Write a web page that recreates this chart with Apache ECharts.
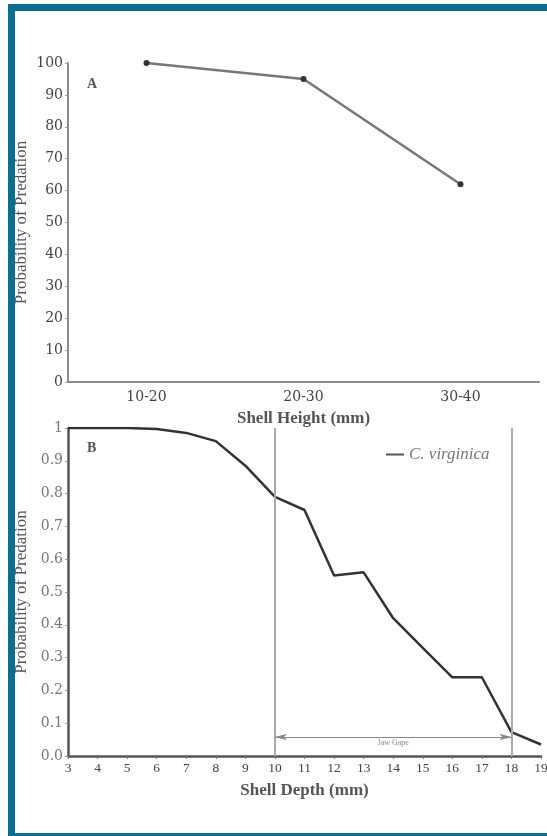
<!DOCTYPE html>
<html>
<head>
<meta charset="utf-8">
<script src="https://cdn.jsdelivr.net/npm/echarts@6/dist/echarts.min.js"></script>
<style>
  html, body { margin: 0; padding: 0; background: #fff; overflow: hidden; }
  #frame { position: absolute; left: 8px; top: 4px; width: 620px; height: 822px; border: 7px solid #0b6d8f; }
  #main { position: absolute; left: 0; top: 0; width: 547px; height: 836px; }
</style>
</head>
<body>
<div id="frame"></div>
<div id="main"></div>
<script>
// 图A：壳高
const heightCats = ['10-20', '20-30', '30-40'];
const heightProb = [100, 95, 62];
// 图B：壳深
const depthVals = [3, 4, 5, 6, 7, 8, 9, 10, 11, 12, 13, 14, 15, 16, 17, 18, 19];
const depthProb = [1.0, 1.0, 1.0, 0.997, 0.985, 0.96, 0.885, 0.79, 0.75, 0.55, 0.56, 0.42, 0.33, 0.24, 0.24, 0.073, 0.035];
const jawGape = [10, 18];
const jawGapeLevel = 0.058;

const serif = 'Liberation Serif';
const wide = 'DejaVu Serif';
const myChart = echarts.init(document.getElementById('main'));

const option = {
  animation: false,
  textStyle: { fontFamily: serif },
  title: [
    { text: 'A', left: 82, top: 72, textStyle: { fontFamily: serif, fontSize: 14, fontWeight: 'bold', color: '#555' } },
    { text: 'B', left: 82, top: 436, textStyle: { fontFamily: serif, fontSize: 14, fontWeight: 'bold', color: '#555' } }
  ],
  legend: {
    data: ['C. virginica'],
    left: 381, top: 441,
    icon: 'rect', itemWidth: 18, itemHeight: 2, itemGap: 6,
    textStyle: { fontFamily: serif, fontStyle: 'italic', fontSize: 17, color: '#777' }
  },
  grid: [
    { left: 68, top: 63, width: 471, height: 319, outerBoundsMode: 'none' },
    { left: 68, top: 428, width: 473, height: 328, outerBoundsMode: 'none' }
  ],
  xAxis: [
    {
      gridIndex: 0, type: 'category', data: heightCats,
      axisLine: { lineStyle: { color: '#8a8a8a', width: 2 } },
      axisTick: { alignWithLabel: true, length: 3, lineStyle: { color: '#999' } },
      axisLabel: { margin: 8, fontSize: 14, color: '#444', fontFamily: wide },
      name: 'Shell Height (mm)', nameLocation: 'middle', nameGap: 28,
      nameTextStyle: { fontFamily: serif, fontSize: 17, fontWeight: 'bold', color: '#555' }
    },
    {
      gridIndex: 1, type: 'value', min: 3, max: 19, interval: 1,
      splitLine: { show: false },
      axisLine: { lineStyle: { color: '#555', width: 2.5 } },
      axisTick: { show: true, length: 3, lineStyle: { color: '#777' } },
      axisLabel: { margin: 5, fontSize: 13.5, color: '#444', fontFamily: serif },
      name: 'Shell Depth (mm)', nameLocation: 'middle', nameGap: 26,
      nameTextStyle: { fontFamily: serif, fontSize: 17, fontWeight: 'bold', color: '#555' }
    }
  ],
  yAxis: [
    {
      gridIndex: 0, type: 'value', min: 0, max: 100, interval: 10,
      splitLine: { show: false },
      axisLine: { show: true, lineStyle: { color: '#8a8a8a', width: 2 } },
      axisTick: { show: true, length: 3, lineStyle: { color: '#999' } },
      axisLabel: { margin: 5, fontSize: 14, color: '#444', fontFamily: wide },
      name: 'Probability of Predation', nameLocation: 'middle', nameGap: 38, nameRotate: 90,
      nameMoveOverlap: false,
      nameTextStyle: { fontFamily: serif, fontSize: 17, color: '#555' }
    },
    {
      gridIndex: 1, type: 'value', min: 0, max: 1, interval: 0.1,
      splitLine: { show: false },
      axisLine: { show: true, lineStyle: { color: '#555', width: 2.5 } },
      axisTick: { show: true, length: 3, lineStyle: { color: '#999' } },
      axisLabel: {
        margin: 5, fontSize: 14, color: '#777', fontFamily: wide,
        formatter: function (v) { return v === 1 ? '1' : v.toFixed(1); }
      },
      name: 'Probability of Predation', nameLocation: 'middle', nameGap: 38, nameRotate: 90,
      nameMoveOverlap: false,
      nameTextStyle: { fontFamily: serif, fontSize: 17, color: '#555' }
    }
  ],
  series: [
    {
      name: 'A', type: 'line', xAxisIndex: 0, yAxisIndex: 0,
      data: heightProb,
      symbol: 'circle', symbolSize: 6,
      lineStyle: { color: '#777', width: 2.5 },
      itemStyle: { color: '#333' }
    },
    {
      name: 'C. virginica', type: 'line', xAxisIndex: 1, yAxisIndex: 1,
      data: depthVals.map((d, i) => [d, depthProb[i]]),
      showSymbol: false, symbol: 'none',
      lineStyle: { color: '#333', width: 2.5 },
      itemStyle: { color: '#555' },
      markLine: {
        silent: true,
        animation: false,
        symbol: ['none', 'none'],
        data: [
          { xAxis: jawGape[0], lineStyle: { color: '#aaa', width: 2, type: 'solid' }, label: { show: false } },
          { xAxis: jawGape[1], lineStyle: { color: '#aaa', width: 2, type: 'solid' }, label: { show: false } },
          [
            { coord: [jawGape[0], jawGapeLevel], symbol: 'arrow', symbolSize: [5, 12] },
            { coord: [jawGape[1], jawGapeLevel], symbol: 'arrow', symbolSize: [5, 12],
              lineStyle: { color: '#888', width: 1.2, type: 'solid' },
              label: { show: true, formatter: 'Jaw Gape', position: 'insideMiddleBottom', distance: 2,
                fontFamily: serif, fontSize: 8, color: '#888' } }
          ]
        ]
      }
    }
  ]
};
myChart.setOption(option);
window.addEventListener('resize', function () {
  myChart.resize();
});
</script>
</body>
</html>
